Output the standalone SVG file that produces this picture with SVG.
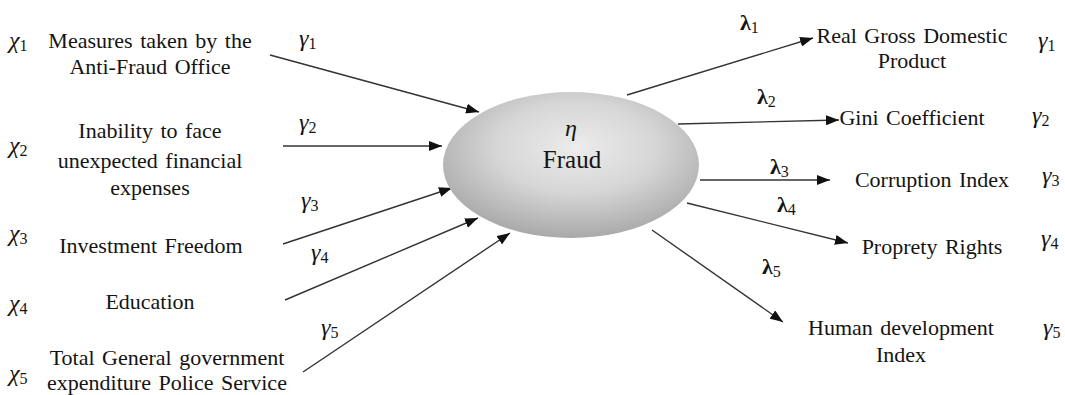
<svg xmlns="http://www.w3.org/2000/svg" width="1065" height="395" viewBox="0 0 1065 395">
<style>
text{font-family:'Liberation Serif','DejaVu Serif',serif}
.t{font-size:22px;fill:#141414;word-spacing:2px}
.c{text-anchor:middle}
.g{font-style:italic;font-size:24px;fill:#141414}
.l{font-weight:bold;font-size:22px;fill:#141414}
.s{font-style:normal;font-weight:normal;font-size:16px}
.e{stroke:#333;stroke-width:1.4;fill:none;marker-end:url(#ah)}
</style>
<defs>
<marker id="ah" markerUnits="userSpaceOnUse" markerWidth="14" markerHeight="10" refX="13" refY="5" orient="auto">
<path d="M0,0 L13,5 L0,10 z" fill="#111"/>
</marker>
<radialGradient id="eg" cx="0.52" cy="0.38" r="0.62">
<stop offset="0" stop-color="#ececec"/>
<stop offset="0.5" stop-color="#d6d6d6"/>
<stop offset="1" stop-color="#a9a9a9"/>
</radialGradient>
</defs>
<rect width="1065" height="395" fill="#fff"/>
<g id="connectors">
<line class="e" x1="270" y1="55" x2="479" y2="112"/>
<line class="e" x1="283" y1="146" x2="442" y2="146"/>
<line class="e" x1="283" y1="244" x2="452" y2="188"/>
<line class="e" x1="285" y1="300" x2="478" y2="218"/>
<line class="e" x1="303" y1="372" x2="510" y2="233"/>
<line class="e" x1="627" y1="95" x2="813" y2="38"/>
<line class="e" x1="678" y1="124" x2="839" y2="120"/>
<line class="e" x1="700" y1="180" x2="830" y2="180"/>
<line class="e" x1="687" y1="203" x2="848" y2="243"/>
<line class="e" x1="652" y1="230" x2="783" y2="322"/>
</g>
<g id="fraud">
<ellipse cx="571" cy="165" rx="128" ry="73" fill="url(#eg)"/>
<text class="g c" x="571" y="136">η</text>
<text class="t c" x="572" y="168" style="font-size:25px">Fraud</text>
</g>
<g id="x1">
<text class="g" x="9" y="48">χ<tspan class="s" dy="3">1</tspan></text>
<text class="t c" x="150" y="48">Measures taken by the</text>
<text class="t c" x="150" y="74">Anti-Fraud Office</text>
<text class="g" x="299" y="46">γ<tspan class="s" dy="3">1</tspan></text>
</g>
<g id="x2">
<text class="g" x="9" y="153">χ<tspan class="s" dy="3">2</tspan></text>
<text class="t c" x="150" y="138">Inability to face</text>
<text class="t c" x="150" y="168">unexpected financial</text>
<text class="t c" x="150" y="195">expenses</text>
<text class="g" x="299" y="130">γ<tspan class="s" dy="3">2</tspan></text>
</g>
<g id="x3">
<text class="g" x="9" y="241">χ<tspan class="s" dy="3">3</tspan></text>
<text class="t c" x="151" y="253">Investment Freedom</text>
<text class="g" x="301" y="208">γ<tspan class="s" dy="3">3</tspan></text>
</g>
<g id="x4">
<text class="g" x="9" y="311">χ<tspan class="s" dy="3">4</tspan></text>
<text class="t c" x="150" y="309">Education</text>
<text class="g" x="311" y="260">γ<tspan class="s" dy="3">4</tspan></text>
</g>
<g id="x5">
<text class="g" x="9" y="381">χ<tspan class="s" dy="3">5</tspan></text>
<text class="t c" x="167" y="365">Total General government</text>
<text class="t c" x="167" y="390">expenditure Police Service</text>
<text class="g" x="321" y="335">γ<tspan class="s" dy="3">5</tspan></text>
</g>
<g id="y1">
<text class="l" x="740" y="30">λ<tspan class="s" dy="3">1</tspan></text>
<text class="t c" x="912" y="43">Real Gross Domestic</text>
<text class="t c" x="912" y="68">Product</text>
<text class="g" x="1038" y="48">γ<tspan class="s" dy="3">1</tspan></text>
</g>
<g id="y2">
<text class="l" x="757" y="104">λ<tspan class="s" dy="3">2</tspan></text>
<text class="t c" x="912" y="125">Gini Coefficient</text>
<text class="g" x="1032" y="123">γ<tspan class="s" dy="3">2</tspan></text>
</g>
<g id="y3">
<text class="l" x="770" y="174">λ<tspan class="s" dy="3">3</tspan></text>
<text class="t c" x="932" y="187">Corruption Index</text>
<text class="g" x="1042" y="183">γ<tspan class="s" dy="3">3</tspan></text>
</g>
<g id="y4">
<text class="l" x="777" y="212">λ<tspan class="s" dy="3">4</tspan></text>
<text class="t c" x="932" y="254">Proprety Rights</text>
<text class="g" x="1041" y="246">γ<tspan class="s" dy="3">4</tspan></text>
</g>
<g id="y5">
<text class="l" x="762" y="274">λ<tspan class="s" dy="3">5</tspan></text>
<text class="t c" x="901" y="335">Human development</text>
<text class="t c" x="901" y="362">Index</text>
<text class="g" x="1043" y="335">γ<tspan class="s" dy="3">5</tspan></text>
</g>
</svg>
